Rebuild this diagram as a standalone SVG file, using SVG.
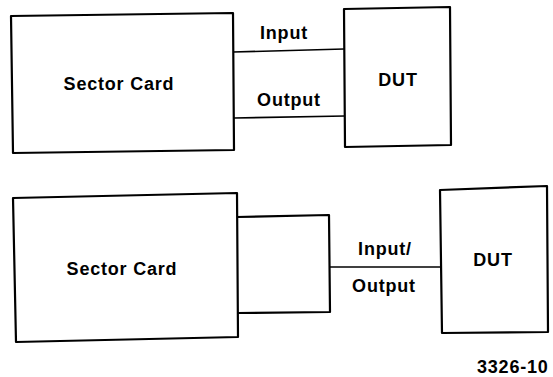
<svg xmlns="http://www.w3.org/2000/svg" width="553" height="377" viewBox="0 0 553 377">
<style>
.box{fill:none;stroke:#000;stroke-width:2.2;stroke-linejoin:round}
.wire{fill:none;stroke:#000;stroke-width:1.6}
.lbl{font-family:"Liberation Sans",Arial,sans-serif;font-weight:bold;font-size:18px;fill:#000;letter-spacing:0.8px}
</style>
<rect width="553" height="377" fill="#fff"/>
<g id="sector-card-1">
<path class="box" d="M11,16 L233,13 L234,150 L13,153 Z"/>
<text class="lbl" x="119" y="90" text-anchor="middle">Sector Card</text>
</g>
<g id="dut-1">
<path class="box" d="M344,9 L450,7 L451,145 L345,147 Z"/>
<text class="lbl" x="398" y="86" text-anchor="middle">DUT</text>
</g>
<g id="sector-card-2">
<path class="box" d="M13,198 L237,193 L238,337 L16,342 Z"/>
<text class="lbl" x="122" y="275" text-anchor="middle">Sector Card</text>
</g>
<g id="adapter-2">
<path class="box" d="M237,217 L329,215 L330,312 L238,313"/>
</g>
<g id="dut-2">
<path class="box" d="M440,190 L547,186 L548,332 L442,333 Z"/>
<text class="lbl" x="493" y="266" text-anchor="middle">DUT</text>
</g>
<g id="connectors">
<path class="wire" d="M233,52 L344,49"/>
<path class="wire" d="M234,118 L345,116"/>
<path class="wire" d="M329,267 L440,267"/>
<text class="lbl" x="284" y="39" text-anchor="middle">Input</text>
<text class="lbl" x="289" y="106" text-anchor="middle">Output</text>
<text class="lbl" x="385" y="255" text-anchor="middle">Input/</text>
<text class="lbl" x="384" y="292" text-anchor="middle">Output</text>
</g>
<text class="lbl" x="477" y="373">3326-10</text>
</svg>
